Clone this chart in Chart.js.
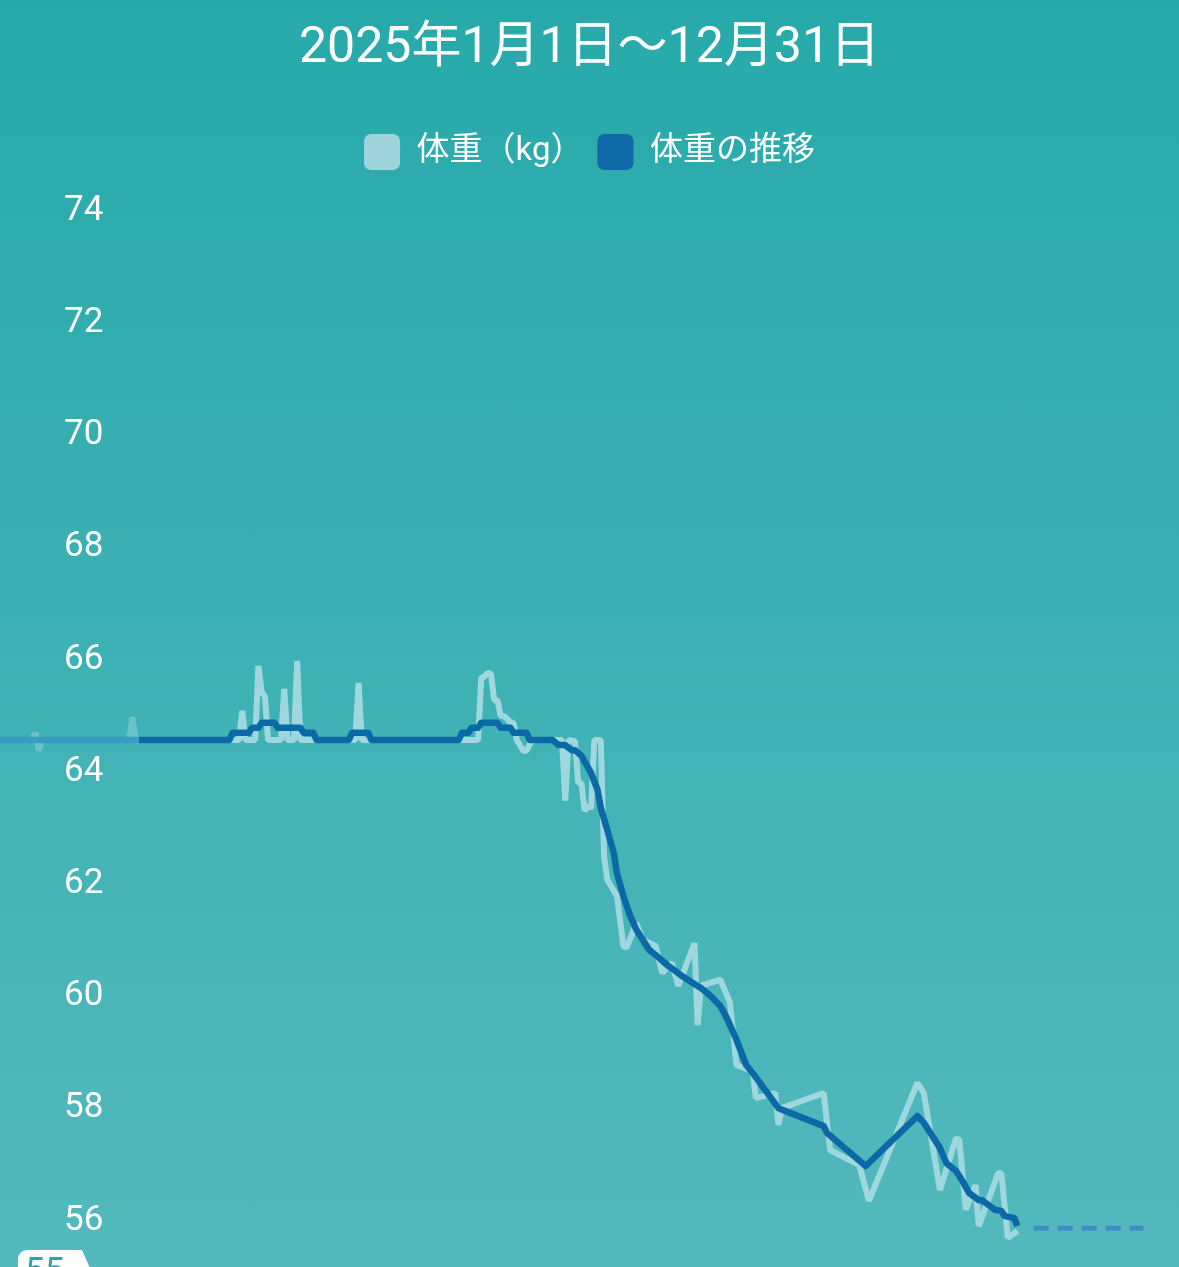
<!DOCTYPE html>
<html>
<head>
<meta charset="utf-8">
<script src="https://cdn.jsdelivr.net/npm/chart.js@4.4.1/dist/chart.umd.min.js"></script>
<style>
  html, body { margin: 0; padding: 0; }
  body {
    width: 1179px; height: 1267px; overflow: hidden;
    background: linear-gradient(180deg, #27a9aa 0%, #53b9bd 100%);
  }
  canvas { display: block; }
</style>
</head>
<body>
<canvas id="weightChart" width="1179" height="1267"></canvas>
<script>
const titleText = '2025年1月1日〜12月31日';
const seriesNames = ['体重（kg）', '体重の推移'];
const yTicks = [56, 58, 60, 62, 64, 66, 68, 70, 72, 74];
const goalWeight = 55;
const fadeBeforeDay = 43;

// day of year (0 = Jan 1) and measured weight
const weightDays = [0, 10, 11, 12, 13, 40, 41, 42, 74, 75, 76, 79, 80, 81, 82, 83, 87, 88, 89, 91, 92, 93,
  110, 111, 112, 148, 149, 150, 151, 152, 153, 154, 155, 156, 157, 158, 159, 160, 162, 163, 164, 165,
  174, 175, 176, 178, 179, 180, 181, 182, 183, 184, 186, 187, 188, 191, 193, 194, 197, 199, 203, 205,
  208, 210, 215, 216, 217, 223, 226, 228, 233, 234, 240, 241, 242, 255, 257, 266, 269, 284, 286, 291,
  296, 297, 299, 302, 303, 309, 310, 312, 315];
const weightKg = [64.57, 64.57, 64.70, 64.38, 64.57, 64.57, 64.98, 64.57, 64.57, 65.09, 64.57, 64.57, 65.89, 65.43, 65.35, 64.57, 64.57, 65.48, 64.57, 64.57, 65.98, 64.57,
  64.57, 65.59, 64.57, 64.57, 65.68, 65.70, 65.77, 65.75, 65.28, 65.28, 65.00, 65.00, 64.95, 64.88, 64.88, 64.57, 64.38, 64.38, 64.50, 64.57,
  64.57, 63.49, 64.57, 64.55, 63.81, 63.80, 63.31, 63.40, 63.35, 64.57, 64.57, 62.50, 62.08, 61.79, 60.90, 60.87, 61.31, 61.01, 60.90, 60.42,
  60.60, 60.19, 60.95, 59.49, 60.19, 60.30, 59.89, 58.78, 58.67, 58.19, 58.28, 57.71, 58.01, 58.28, 57.26, 57.00, 56.36, 58.46, 58.28, 56.55,
  57.48, 57.44, 56.20, 56.64, 55.91, 56.85, 56.85, 55.70, 55.82];

// trend line
const trendDays = [0, 43, 71, 72, 77, 78, 80, 81, 85, 86, 93, 94, 97, 98, 108, 109, 114, 115,
  142, 143, 145, 146, 148, 149, 154, 155, 158, 159, 163, 164, 171, 173, 175, 177, 178,
  180, 183, 185, 186, 188, 190, 191, 193, 195, 197, 199, 201, 204, 207, 209, 211, 214, 217, 220, 223, 225, 228, 231, 233,
  241, 255, 256, 268, 284, 286, 291, 292, 293, 296, 298, 300, 303, 304, 308, 310, 311, 314, 315];
const trendKg = [64.57, 64.57, 64.57, 64.70, 64.70, 64.79, 64.79, 64.88, 64.88, 64.79, 64.79, 64.70, 64.70, 64.57, 64.57, 64.70, 64.70, 64.57,
  64.57, 64.70, 64.70, 64.79, 64.79, 64.88, 64.88, 64.79, 64.79, 64.70, 64.70, 64.57, 64.57, 64.48, 64.48, 64.39, 64.39,
  64.29, 63.98, 63.68, 63.36, 62.97, 62.56, 62.20, 61.79, 61.45, 61.19, 61.01, 60.83, 60.69, 60.54, 60.46, 60.37, 60.26, 60.15, 60.01, 59.83, 59.62, 59.23, 58.78, 58.64,
  58.01, 57.69, 57.57, 56.98, 57.87, 57.75, 57.30, 57.16, 57.03, 56.89, 56.71, 56.50, 56.37, 56.37, 56.20, 56.18, 56.09, 56.05, 55.91];

// projected trend (dashed)
const forecastDays = [320, 354];
const forecastKg = [55.87, 55.87];

const toPoints = (days, vals) => days.map((d, i) => ({ x: d, y: vals[i] }));

Chart.defaults.font.family = 'Roboto, "Noto Sans CJK JP", sans-serif';
Chart.defaults.color = '#ffffff';

const goalTag = {
  id: 'goalTag',
  afterDraw(chart) {
    const ctx = chart.ctx;
    const y = chart.scales.y.getPixelForValue(goalWeight);
    const left = 18, right = 82, tip = 94, h = 27, r = 9;
    ctx.save();
    ctx.fillStyle = '#ffffff';
    ctx.beginPath();
    ctx.moveTo(left + r, y - h);
    ctx.lineTo(right, y - h);
    ctx.lineTo(tip, y);
    ctx.lineTo(right, y + h);
    ctx.lineTo(left + r, y + h);
    ctx.arcTo(left, y + h, left, y + h - r, r);
    ctx.lineTo(left, y - h + r);
    ctx.arcTo(left, y - h, left + r, y - h, r);
    ctx.fill();
    ctx.fillStyle = '#2aa6a8';
    ctx.font = '35px Roboto';
    ctx.textBaseline = 'middle';
    ctx.fillText(String(goalWeight), 25, y - 4);
    ctx.restore();
  }
};

const chart = new Chart(document.getElementById('weightChart'), {
  type: 'line',
  data: {
    datasets: [{
      label: seriesNames[0],
      data: toPoints(weightDays, weightKg),
      borderColor: '#9fd7df',
      backgroundColor: '#9ed3dc',
      borderWidth: 6,
      borderJoinStyle: 'bevel',
      pointRadius: 0,
      tension: 0,
      order: 1,
      segment: {
        borderColor: c => c.p1.parsed.x <= fadeBeforeDay ? 'rgba(159,214,222,0.45)' : undefined
      }
    }, {
      label: seriesNames[1],
      data: toPoints(trendDays, trendKg),
      borderColor: '#0c69a7',
      backgroundColor: '#1068a6',
      borderWidth: 6.5,
      borderJoinStyle: 'round',
      pointRadius: 0,
      tension: 0,
      order: 0,
      segment: {
        borderColor: c => c.p1.parsed.x <= fadeBeforeDay ? '#3a9bc2' : undefined
      }
    }, {
      label: 'forecast',
      data: toPoints(forecastDays, forecastKg),
      borderColor: '#3d8dc4',
      borderWidth: 5,
      borderDash: [15, 9],
      pointRadius: 0,
      order: 2
    }]
  },
  options: {
    responsive: false,
    animation: false,
    layout: { padding: 0 },
    plugins: {
      title: {
        display: true,
        text: titleText,
        color: '#ffffff',
        font: { size: 50, weight: 'normal' },
        padding: { top: 19, bottom: 41 }
      },
      legend: {
        display: true,
        labels: {
          color: '#ffffff',
          font: { size: 33 },
          boxWidth: 36,
          boxHeight: 36,
          useBorderRadius: true,
          borderRadius: 7,
          padding: 14,
          filter: item => item.datasetIndex < 2,
          sort: (a, b) => a.datasetIndex - b.datasetIndex,
          generateLabels: ch => Chart.defaults.plugins.legend.labels.generateLabels(ch)
            .map(item => Object.assign(item, { lineWidth: 0, strokeStyle: 'rgba(0,0,0,0)', lineDash: [] }))
        }
      },
      tooltip: { enabled: false }
    },
    scales: {
      x: { type: 'linear', min: 0, max: 365, display: false },
      y: {
        min: 55.18,
        max: 74.55,
        grid: { display: false, drawTicks: false },
        border: { display: false },
        afterBuildTicks: axis => { axis.ticks = yTicks.map(v => ({ value: v })); },
        afterFit: axis => { axis.width = 0; axis.paddingTop = 0; axis.paddingBottom = 0; },
        ticks: {
          mirror: true,
          padding: 64,
          color: '#ffffff',
          font: { size: 35 }
        }
      }
    }
  },
  plugins: [goalTag]
});
</script>
</body>
</html>
